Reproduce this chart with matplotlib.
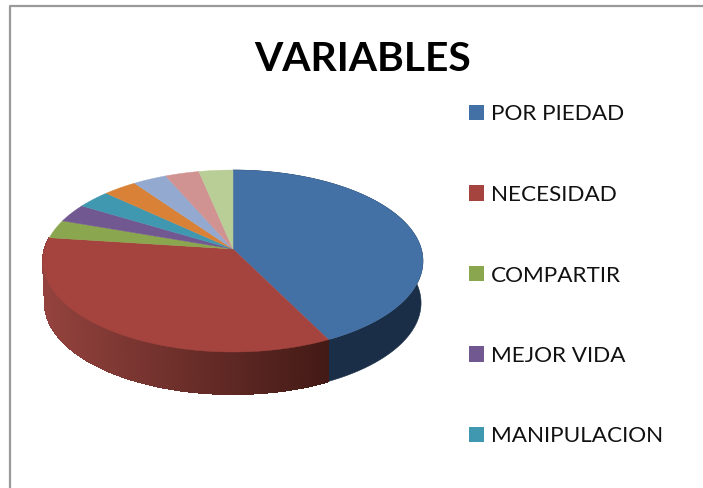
import numpy as np
import matplotlib
matplotlib.use("Agg")
import matplotlib.pyplot as plt
from matplotlib.patches import Patch, Polygon

title = "VARIABLES"
categories = ["POR PIEDAD", "NECESIDAD", "COMPARTIR", "MEJOR VIDA", "MANIPULACION",
              "F", "G", "H", "I"]
values = [13, 10.5, 1, 1, 1, 1, 1, 1, 1]
colors = ["#4371A6", "#A5443F", "#8AA64E", "#725891", "#4098B0",
          "#D98237", "#93A9CF", "#D19392", "#B9CD96"]
legend_count = 5

CX, CY, A, B, K = 233, 249, 188.3, 89.4, 0.132
DEPTH, WALL_SCALE = 42, 0.99


def top(theta):
    """theta in radians clockwise from the top of the disc -> screen px."""
    u, v = np.sin(theta), np.cos(theta)
    w = 1 + K * v
    return CX + A * u / w, CY - B * v / w


def bottom(theta):
    x, y = top(theta)
    return CX + WALL_SCALE * (x - CX), y + DEPTH


def mix(c1, c2, t):
    c1, c2 = np.array(matplotlib.colors.to_rgb(c1)), np.array(matplotlib.colors.to_rgb(c2))
    return tuple(c1 + (c2 - c1) * t)


fig = plt.figure(figsize=(7.03, 4.88), dpi=100, facecolor="white")
ax = fig.add_axes([0, 0, 1, 1])
ax.set_xlim(0, 703)
ax.set_ylim(488, 0)
ax.axis("off")

# frame of the chart (cropped at right and bottom)
ax.plot([10, 10, 703], [488, 5.5, 5.5], color="#9A9A9A", lw=1.6, solid_capstyle="butt")

edges = 2 * np.pi * np.concatenate([[0], np.cumsum(values)]) / np.sum(values)

# side wall: blue is flat, red has a left-to-right gradient
th = np.linspace(edges[0], edges[1], 140)
xs, ys = top(th)
xb, yb = bottom(th)
ax.add_patch(Polygon(np.column_stack([np.r_[xs, xb[::-1]], np.r_[ys, yb[::-1]]]),
                     closed=True, facecolor="#1A2E47", edgecolor="#1A2E47", lw=0.4))
th = np.linspace(edges[1], edges[2], 300)
for t0, t1 in zip(th[:-1], th[1:]):
    x0, y0 = top(t0); x1, y1 = top(t1)
    x2, y2 = bottom(t1); x3, y3 = bottom(t0)
    col = mix("#93423D", "#431A16", np.clip((max(x0, x1) - 46) / (328 - 46), 0, 1))
    ax.add_patch(Polygon([(x0, y0), (x1, y1), (x2, y2), (x3, y3)], closed=True,
                         facecolor=col, edgecolor=col, lw=0.8, antialiased=False))

# top face
for i, c in enumerate(colors):
    th = np.linspace(edges[i], edges[i + 1], 120)
    xs, ys = top(th)
    pts = np.column_stack([np.r_[CX, xs], np.r_[CY, ys]])
    ax.add_patch(Polygon(pts, closed=True, facecolor=c, edgecolor=c, lw=0.3))

ax.text(362.5, 71, title, fontsize=29.3, fontweight="bold", family="Lato",
        ha="center", va="baseline", color="black")

handles = [Patch(facecolor=colors[i], edgecolor="none") for i in range(legend_count)]
fs = 16.2
px = fs * 100 / 72
leg = ax.legend(handles, categories[:legend_count], loc="upper left",
                bbox_to_anchor=(469 / 703, 1 - 104.5 / 488), borderaxespad=0, borderpad=0,
                frameon=False, prop={"family": "Lato", "size": fs},
                handlelength=15 / px, handleheight=15 / px, handletextpad=7 / px,
                labelspacing=(87.5 - px * 1.2) / px, labelcolor="#111111")

fig.savefig("out.png", dpi=100)
